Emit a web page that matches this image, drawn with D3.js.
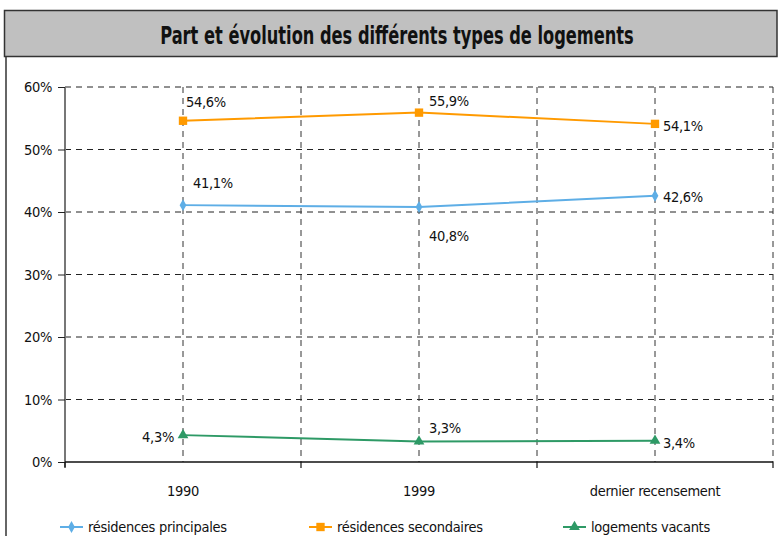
<!DOCTYPE html>
<html><head><meta charset="utf-8">
<script src="https://cdn.jsdelivr.net/npm/d3@7/dist/d3.min.js"></script>
<style>
body{margin:0;background:#fff;}
text{font-family:"DejaVu Sans Condensed","Liberation Sans Narrow",sans-serif;font-stretch:condensed;fill:#111;letter-spacing:-0.3px;}
</style></head>
<body><svg id="c" width="778" height="536"></svg>
<script>
const title = "Part et évolution des différents types de logements";
const categories = ["1990", "1999", "dernier recensement"];
const seriesNames = ["résidences principales", "résidences secondaires", "logements vacants"];
const principales = [41.1, 40.8, 42.6];
const secondaires = [54.6, 55.9, 54.1];
const vacants = [4.3, 3.3, 3.4];
const yTicks = [0, 10, 20, 30, 40, 50, 60];
const colors = ["#5eaee6", "#ff9a00", "#2e9a66"];
const markers = ["diamond", "square", "triangle"];

const svg = d3.select("#c");
const fmt = v => d3.format(".1f")(v).replace(".", ",") + "%";
const FS = "14.5px";

// Title box
svg.append("rect").attr("x", 4.5).attr("y", 10.5).attr("width", 772.5).attr("height", 46)
  .attr("fill", "#c0c0c0").attr("stroke", "#333").attr("stroke-width", 1.5);
svg.append("line").attr("x1", 6).attr("x2", 6).attr("y1", 57).attr("y2", 536).attr("stroke", "#333").attr("stroke-width", 1.5);
const tt = svg.append("text").attr("text-anchor", "middle")
  .style("font-weight", "bold").style("font-size", "24px").style("letter-spacing", "0px").text(title);
const tw = tt.node().getComputedTextLength();
tt.attr("transform", `translate(397,44) scale(${474 / tw},1)`);

const L = 65, R = 773, T = 87, B = 462;
const x = d3.scaleBand().domain(categories).range([L, R]).padding(0);
const y = d3.scaleLinear().domain([0, 60]).range([B, T]);
const cx = c => x(c) + x.bandwidth() / 2;

const g = svg.append("g");
g.selectAll(".hg").data(yTicks.filter(t => t > 0)).join("line")
  .attr("x1", L).attr("x2", R).attr("y1", d => y(d)).attr("y2", d => y(d))
  .attr("stroke", "#222").attr("stroke-dasharray", "6,5").attr("stroke-width", 1);
const vlines = categories.map(cx).concat(categories.slice(1).map(c => x(c)), [R]);
g.selectAll(".vg").data(vlines).join("line")
  .attr("x1", d => d).attr("x2", d => d).attr("y1", T).attr("y2", B)
  .attr("stroke", "#333").attr("stroke-dasharray", "6,5").attr("stroke-width", 1);

const ya = svg.append("g").attr("transform", `translate(${L},0)`)
  .call(d3.axisLeft(y).tickValues(yTicks).tickFormat(d => d + "%").tickSize(7).tickPadding(6));
ya.select(".domain").attr("stroke", "#777").attr("stroke-width", 2).attr("d", `M0,${T}V${B+5}`);
ya.selectAll(".tick line").attr("stroke", "#222");
ya.selectAll("text").style("font-size", FS).attr("fill", "#111");

const xa = svg.append("g").attr("transform", `translate(0,${B})`)
  .call(d3.axisBottom(x).tickSize(0).tickPadding(24));
xa.select(".domain").attr("stroke", "#111").attr("stroke-width", 1.5).attr("d", `M${L},0H${R}`);
xa.selectAll("text").style("font-size", FS).attr("fill", "#111");
xa.selectAll(".bt").data([L].concat(categories.slice(1).map(c => x(c)), [R])).join("line")
  .attr("x1", d => d).attr("x2", d => d).attr("y1", 0).attr("y2", 6).attr("stroke", "#111").attr("stroke-width", 1.2);

const symbolOf = {
  diamond: d3.symbol().type(d3.symbolDiamond).size(40),
  square: d3.symbol().type(d3.symbolSquare).size(70),
  triangle: d3.symbol().type(d3.symbolTriangle).size(50)
};
const allSeries = [principales, secondaires, vacants];
const line = d3.line().x((d, i) => cx(categories[i])).y(d => y(d));
allSeries.forEach((vals, s) => {
  svg.append("path").datum(vals).attr("d", line).attr("fill", "none")
    .attr("stroke", colors[s]).attr("stroke-width", 2);
  svg.selectAll(".m" + s).data(vals).join("path")
    .attr("transform", (d, i) => `translate(${cx(categories[i])},${y(d)})`)
    .attr("d", symbolOf[markers[s]]).attr("fill", colors[s]);
});

const labelPos = [
  [[10, -17, "start"], [10, 34, "start"], [8, 6, "start"]],
  [[3, -14, "start"], [10, -7, "start"], [8, 7, "start"]],
  [[-9, 7, "end"], [10, -8, "start"], [8, 7, "start"]]
];
allSeries.forEach((vals, s) => {
  svg.selectAll(".l" + s).data(vals).join("text")
    .attr("x", (d, i) => cx(categories[i]) + labelPos[s][i][0])
    .attr("y", (d, i) => y(d) + labelPos[s][i][1])
    .attr("text-anchor", (d, i) => labelPos[s][i][2])
    .style("font-size", FS).text(d => fmt(d));
});

const legX = [60, 309, 563];
seriesNames.forEach((n, s) => {
  const lg = svg.append("g").attr("transform", `translate(${legX[s]},527)`);
  lg.append("line").attr("x1", 0).attr("x2", 23).attr("stroke", colors[s]).attr("stroke-width", 2);
  lg.append("path").attr("transform", "translate(11.5,0)").attr("d", symbolOf[markers[s]]).attr("fill", colors[s]);
  lg.append("text").attr("x", 28).attr("y", 5).style("font-size", FS).text(n);
});
</script></body></html>
